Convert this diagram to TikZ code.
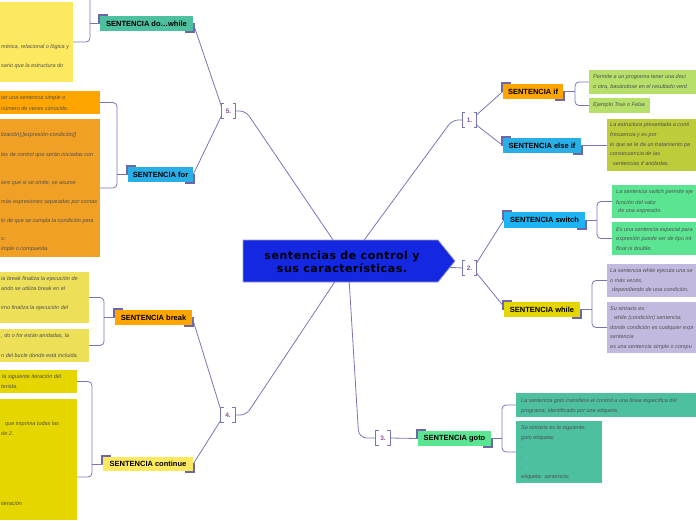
\documentclass[tikz,border=0pt]{standalone}
\usepackage{fontspec}
\setmainfont{Liberation Sans}
\newfontfamily\titlefont[LetterSpace=5]{DejaVu Sans}
\usetikzlibrary{backgrounds}
\definecolor{connc}{RGB}{118,118,182}
\definecolor{markc}{RGB}{108,104,168}
\definecolor{numc}{RGB}{142,78,152}
\definecolor{centerc}{RGB}{20,40,225}
\definecolor{centerb}{RGB}{154,152,200}
\definecolor{tealc}{RGB}{76,192,159}
\definecolor{bluec}{RGB}{41,174,230}
\definecolor{blueb}{RGB}{28,180,242}
\definecolor{orangec}{RGB}{255,165,0}
\definecolor{orangeb}{RGB}{240,160,36}
\definecolor{yela}{RGB}{253,233,95}
\definecolor{yelb}{RGB}{237,224,88}
\definecolor{yelc}{RGB}{229,214,0}
\definecolor{greena}{RGB}{182,224,106}
\definecolor{olivec}{RGB}{188,204,58}
\definecolor{mintc}{RGB}{91,229,147}
\definecolor{lavc}{RGB}{194,186,222}
\definecolor{leaftext}{RGB}{80,80,80}
\newcounter{tlc}
\newcommand\tl[3]{\stepcounter{tlc}\node[lt] (tl\arabic{tlc}) at (#1,#2) {#3};}
\newcommand\tmarks[1]{%
  \draw[tick] ([shift={(-1pt,-8pt)}]#1.north west) -- ([shift={(-1pt,1pt)}]#1.north west) -- ([shift={(8pt,1pt)}]#1.north west);
  \draw[tick] ([shift={(1pt,8pt)}]#1.south east) -- ([shift={(1pt,-1pt)}]#1.south east) -- ([shift={(-8pt,-1pt)}]#1.south east);}
\newcommand\numbr[3]{%
  \node[numlbl] (#1) at (#2) {#3};
  \draw[brk] ([xshift=3pt]#1.north west) -- (#1.north west) -- (#1.south west) -- ([xshift=3pt]#1.south west);
  \draw[brk] ([xshift=-3pt]#1.north east) -- (#1.north east) -- (#1.south east) -- ([xshift=-3pt]#1.south east);}
\begin{document}
\begin{tikzpicture}[x=1pt,y=-1pt,
  conn/.style={draw=connc, line width=0.8pt},
  topicbox/.style={inner sep=0pt, font=\fontsize{7.5}{8}\selectfont\bfseries, text=black},
  leafbox/.style={anchor=north west, inner sep=0pt, outer sep=0pt},
  lt/.style={anchor=west, inner sep=0pt, font=\fontsize{5.5}{6}\selectfont\itshape, text=leaftext},
  numlbl/.style={minimum width=14pt, minimum height=14pt, inner sep=0pt, font=\fontsize{6.5}{6.5}\selectfont\bfseries, text=numc},
  brk/.style={draw=connc, line width=0.8pt},
  tick/.style={draw=markc, line width=1.6pt}
]
\useasboundingbox (0,0) rectangle (696,520);

% central topic
\node[font=\titlefont\fontsize{11}{13}\selectfont\bfseries, align=center, inner sep=0pt] (title) at (342,262) {sentencias de control y\\sus características.};
\coordinate (hub) at (348,262);

% leaf boxes
\node[leafbox, fill=yela, minimum width=73pt, minimum height=80pt] (lA) at (0,2) {};
\node[leafbox, fill=orangec, minimum width=100pt, minimum height=23pt] (lB) at (0,91) {};
\node[leafbox, fill=orangeb, minimum width=100pt, minimum height=138pt] (lC) at (0,119) {};
\node[leafbox, fill=yelb, minimum width=89pt, minimum height=51pt] (lD) at (0,272) {};
\node[leafbox, fill=yelb, minimum width=89pt, minimum height=33pt] (lE) at (0,329) {};
\node[leafbox, fill=yelc, minimum width=77pt, minimum height=23pt] (lF) at (0,370) {};
\node[leafbox, fill=yelc, minimum width=77pt, minimum height=121pt] (lG) at (0,399) {};
\node[leafbox, fill=greena, minimum width=107pt, minimum height=24pt] (lH) at (589,70) {};
\node[leafbox, fill=greena, minimum width=61pt, minimum height=15pt] (lI) at (589,98) {};
\node[leafbox, fill=olivec, minimum width=89pt, minimum height=52pt] (lJ) at (607,119) {};
\node[leafbox, fill=mintc, minimum width=84pt, minimum height=33pt] (lK) at (612,185) {};
\node[leafbox, fill=mintc, minimum width=84pt, minimum height=33pt] (lL) at (612,222) {};
\node[leafbox, fill=lavc, minimum width=89pt, minimum height=33pt] (lM) at (607,264) {};
\node[leafbox, fill=lavc, minimum width=89pt, minimum height=51pt] (lN) at (607,302) {};
\node[leafbox, fill=tealc, minimum width=180pt, minimum height=24pt] (lO) at (516,393) {};
\node[leafbox, fill=tealc, minimum width=86pt, minimum height=62pt] (lP) at (516,421) {};

% leaf texts
\tl{1}{47}{mérica, relacional o lógica y}
\tl{1}{66}{sario que la estructura do}
\tl{1}{98}{tar una sentencia simple o}
\tl{1}{108}{número de veces conocido.}
\tl{1}{135}{lización];[expresión-condición]]}
\tl{1}{155}{les de control que serán iniciadas con}
\tl{1}{183}{iere que si se omite, se asume}
\tl{1}{202}{más expresiones separadas por comas}
\tl{1}{221}{lo de que se cumpla la condición para}
\tl{1}{239}{s:}
\tl{1}{249}{imple o compuesta.}
\tl{1}{279}{ia break finaliza la ejecución de}
\tl{1}{289}{ando se utiliza break en el}
\tl{1}{308}{imo finaliza la ejecución del}
\tl{1}{336}{, do o for están anidadas, la}
\tl{1}{355}{n del bucle donde está incluida.}
\tl{2}{377}{la siguiente iteración del}
\tl{1}{387}{tenida.}
\tl{5}{424}{que imprima todas las}
\tl{1}{434}{de 2.}
\tl{1}{503}{iteración}
\tl{593}{77}{Permite a un programa tener una deci}
\tl{593}{87}{o otra, basándose en el resultado verd}
\tl{593}{105}{Ejemplo True o False}
\tl{610}{125}{La estructura presentada a conti}
\tl{610}{135}{frecuencia y es por}
\tl{610}{145}{lo que se le da un tratamiento pa}
\tl{610}{154}{consecuencia de las}
\tl{613}{164}{sentencias if anidadas.}
\tl{616}{192}{La sentencia switch permite eje}
\tl{616}{202}{función del valor}
\tl{618}{211}{de una expresión.}
\tl{616}{230}{Es una sentencia especial para}
\tl{616}{239}{expresión puede ser de tipo int}
\tl{616}{249}{float ni double.}
\tl{610}{271}{La sentencia while ejecuta una se}
\tl{610}{281}{o más veces,}
\tl{612}{290}{dependiendo de una condición.}
\tl{610}{309}{Su sintaxis es:}
\tl{614}{318}{while (condición) sentencia;}
\tl{610}{328}{donde condición es cualquier expr}
\tl{610}{337}{sentencia}
\tl{610}{347}{es una sentencia simple o compu}
\tl{521}{401}{La sentencia goto transfiere el control a una línea específica del}
\tl{521}{411}{programa, identificado por una etiqueta.}
\tl{521}{428}{Su sintaxis es la siguiente:}
\tl{521}{438}{goto etiqueta;}
\tl{521}{448}{.}
\tl{521}{458}{.}
\tl{521}{468}{.}
\tl{521}{477}{etiqueta: sentencia;}

% topic nodes
\node[topicbox, fill=tealc, minimum width=93pt, minimum height=15pt] (dowhile) at (146.5,23.5) {SENTENCIA do…while};
\node[topicbox, fill=bluec, minimum width=65pt, minimum height=15pt] (for) at (160.5,174.5) {SENTENCIA for};
\node[topicbox, fill=orangec, minimum width=77pt, minimum height=15pt] (break) at (153.5,317.5) {SENTENCIA break};
\node[topicbox, fill=yela, minimum width=90pt, minimum height=14pt] (continue) at (148,464) {SENTENCIA continue};
\node[topicbox, fill=orangec, minimum width=60pt, minimum height=15pt] (if) at (533,91.5) {SENTENCIA if};
\node[topicbox, fill=bluec, minimum width=78pt, minimum height=15pt] (elseif) at (542,145.5) {SENTENCIA else if};
\node[topicbox, fill=blueb, minimum width=81pt, minimum height=16pt] (switch) at (544.5,220) {SENTENCIA switch};
\node[topicbox, fill=yelc, minimum width=76pt, minimum height=15pt] (while) at (542,309.5) {SENTENCIA while};
\node[topicbox, fill=mintc, minimum width=73pt, minimum height=15pt] (goto) at (454.5,438.5) {SENTENCIA goto};
\tmarks{dowhile}\tmarks{for}\tmarks{break}\tmarks{continue}
\tmarks{if}\tmarks{elseif}\tmarks{switch}\tmarks{while}\tmarks{goto}

% number brackets
\numbr{b1}{469.5,120}{1.}
\numbr{b2}{469.5,268}{2.}
\numbr{b3}{383,438}{3.}
\numbr{b4}{228,415}{4.}
\numbr{b5}{228.5,111}{5.}

% braces to leaves
\coordinate (bA) at (90,0);
\draw[conn, rounded corners=4pt] (lA.east) -| (bA);
\draw[conn] (dowhile.west) -- (dowhile.west -| bA);
\draw[conn, rounded corners=4pt] (lB.east) -| ([xshift=17pt]lC.east) -- (lC.east);
\draw[conn] (for.west) -- ++(-11,0);
\draw[conn, rounded corners=4pt] (lD.east) -| ([xshift=15pt]lE.east) -- (lE.east);
\draw[conn] (break.west) -- ++(-11,0);
\coordinate (cG) at ([yshift=-78pt]lG.north east);
\draw[conn, rounded corners=4pt] (lF.east) -| ([xshift=15pt]cG) -- (cG);
\draw[conn] (continue.west) -- ++(-11,0);
\draw[conn, rounded corners=4pt] (lH.west) -| ([xshift=-14pt]lI.west) -- (lI.west);
\draw[conn] (if.east) -- ++(12,0);
\draw[conn] (elseif.east) -- (elseif.east -| lJ.west);
\draw[conn, rounded corners=4pt] (lK.west) -| ([xshift=-15pt]lL.west) -- (lL.west);
\draw[conn] (switch.east) -- ++(12,0);
\draw[conn, rounded corners=4pt] (lM.west) -| ([xshift=-15pt]lN.west) -- (lN.west);
\draw[conn] (while.east) -- ++(12,0);
\draw[conn, rounded corners=4pt] (lO.west) -| ([xshift=-14pt]lP.west) -- (lP.west);
\draw[conn] (goto.east) -- ++(11,0);

% brackets to topics
\draw[conn] ([yshift=-2pt]b1.north east) -- (if.west);
\draw[conn] ([yshift=2pt]b1.south east) -- (elseif.west);
\draw[conn] ([yshift=-2pt]b2.north east) -- (switch.west);
\draw[conn] ([yshift=2pt]b2.south east) -- ([yshift=3pt]while.west);
\draw[conn] (b3.east) -- (goto.west);
\draw[conn] ([yshift=-2pt]b4.north west) -- (break.east);
\draw[conn] ([yshift=2pt]b4.south west) -- (continue.east);
\draw[conn] ([yshift=-2pt]b5.north west) -- (dowhile.east);
\draw[conn] ([yshift=2pt]b5.south west) -- (for.east);

\begin{pgfonlayer}{background}
\draw[conn, rounded corners=6pt] (hub) -- ([xshift=-10pt]b1.west) -- (b1.west);
\draw[conn] (hub) -- (b2.west);
\draw[conn, rounded corners=8pt] (hub) -- ([xshift=-17pt]b3.west) -- (b3.west);
\draw[conn, rounded corners=6pt] (hub) -- ([xshift=11pt]b4.east) -- (b4.east);
\draw[conn, rounded corners=6pt] (hub) -- ([xshift=10pt]b5.east) -- (b5.east);
\filldraw[fill=centerc, draw=centerb, line width=0.8pt] (243,240) -- (438,240) -- (455,261) -- (438,282) -- (243,282) -- cycle;
\end{pgfonlayer}
\end{tikzpicture}
\end{document}
